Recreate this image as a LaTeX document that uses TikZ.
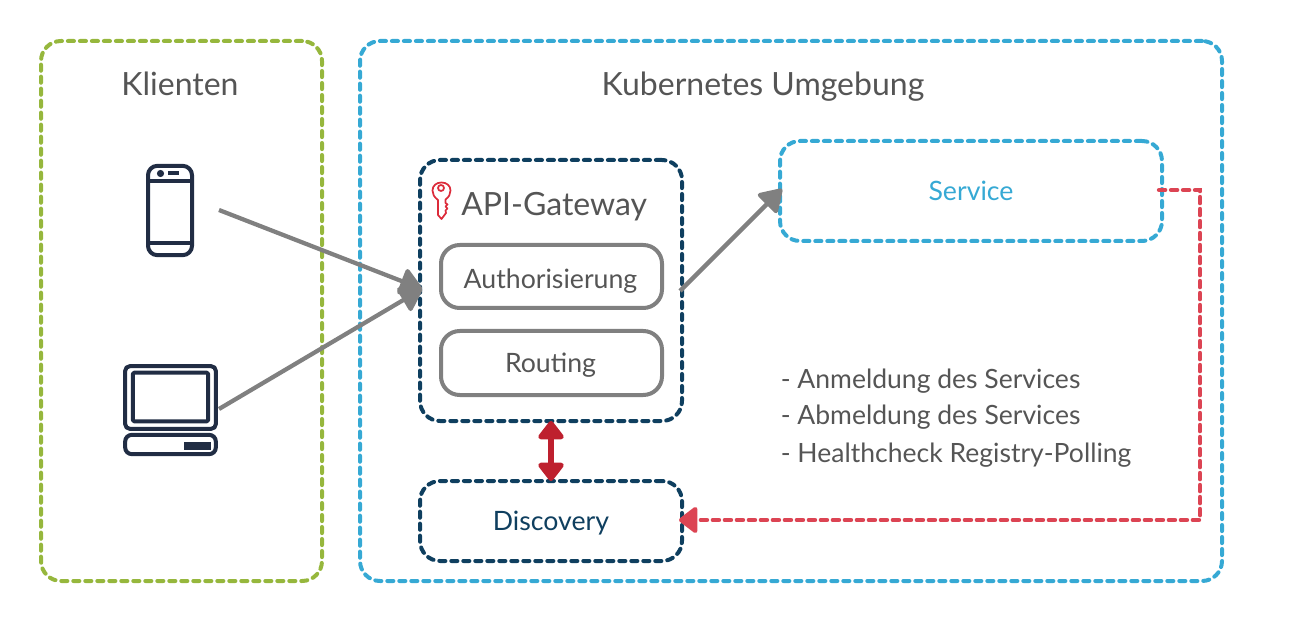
\documentclass[tikz,border=0pt]{standalone}
\usepackage{fontspec}
\setmainfont{Lato}
\usetikzlibrary{arrows.meta}
\definecolor{cgreen}{HTML}{96B73D}
\definecolor{cblue}{HTML}{36A9D4}
\definecolor{cnavy}{HTML}{0F3F5F}
\definecolor{cicon}{HTML}{212D44}
\definecolor{ctext}{HTML}{555555}
\definecolor{cgray}{HTML}{808080}
\definecolor{cred}{HTML}{DC4453}
\definecolor{cdark}{HTML}{BE202E}
\definecolor{ckey}{HTML}{DC2B3A}
\newcommand{\lowered}[2]{\raisebox{-#1}[\height][\depth]{#2}}
\tikzset{
  x=0.75pt,y=-0.75pt,
  dashbox/.style={draw,line width=3pt,line cap=round,dash pattern=on 4.6pt off 4.4pt,rounded corners=15pt,inner sep=0pt,outer sep=0pt,anchor=north west},
  solidbox/.style={draw=cgray,line width=3pt,rounded corners=14pt,inner sep=0pt,outer sep=0pt,anchor=north west,text=ctext,font=\fontsize{20pt}{24pt}\selectfont},
  title/.style={text=ctext,inner sep=0pt,font=\fontsize{24pt}{28pt}\selectfont},
  listitem/.style={text=ctext,inner sep=0pt,anchor=west,font=\fontsize{19.9pt}{23pt}\selectfont},
  grayarrow/.style={draw=cgray,line width=3.2pt,-{Triangle[length=18pt,width=22pt,round]}},
  redarrow/.style={draw=cdark,line width=3.8pt,{Triangle[length=15pt,width=22pt,round]}-{Triangle[length=15pt,width=22pt,round]}},
  dasharrow/.style={draw=cred,line width=3.3pt,line cap=round,dash pattern=on 4.6pt off 4.4pt,-{Triangle[length=15pt,width=22pt,round]}},
  icon/.style={draw=cicon,line width=3pt,line join=round,outer sep=0pt},
  keyline/.style={draw=ckey,line width=1.3pt,line join=round},
}
\begin{document}
\begin{tikzpicture}
\useasboundingbox (0,0) rectangle (1300,620);
% containers
\node[dashbox,draw=cgreen,minimum width=210.75pt,minimum height=405pt] (client) at (41,41) {};
\node[dashbox,draw=cblue,minimum width=646.5pt,minimum height=405pt] (kube) at (360,41) {};
\node[dashbox,draw=cnavy,minimum width=196.5pt,minimum height=195.75pt] (gw) at (420,160) {};
\node[dashbox,draw=cblue,minimum width=286.5pt,minimum height=75pt,text=cblue,font=\fontsize{20pt}{24pt}\selectfont] (svc) at (780,141) {Service};
\node[dashbox,draw=cnavy,minimum width=196.5pt,minimum height=60pt,text=cnavy,font=\fontsize{20pt}{24pt}\selectfont] (disc) at (420,481) {\lowered{1.5pt}{Discovery}};
\node[solidbox,minimum width=165.75pt,minimum height=47.25pt] (auth) at (441,245) {\hspace*{-1.5pt}\lowered{3.75pt}{Authorisierung}};
\node[solidbox,minimum width=165.75pt,minimum height=48pt] (rout) at (441,331) {\hspace*{-1.5pt}\lowered{1.5pt}{Routing}};
% titles
\node[title] (tklient) at (180,84) {Klienten};
\node[title] (tkube) at (763,86.5) {Kubernetes Umgebung};
\node[title,anchor=west] (tgw) at (461,206.5) {API-Gateway};
% list
\node[listitem] (l1) at (780.5,381.5) {- Anmeldung des Services};
\node[listitem] (l2) at (780.5,417.5) {- Abmeldung des Services};
\node[listitem] (l3) at (780.5,455.5) {- Healthcheck Registry-Polling};
% phone icon
\node[icon,rounded corners=7pt,minimum width=33pt,minimum height=67pt,inner sep=0pt] (phone) at (170,210.5) {};
\draw[icon] (147,181) -- (193,181);
\draw[icon] (147,243) -- (193,243);
\fill[cicon] (160.5,173.5) circle[radius=3.6];
\draw[icon] (168,173.5) -- (179,173.5);
% laptop icon
\node[icon,rounded corners=3.5pt,minimum width=68pt,minimum height=47pt,inner sep=0pt] (screen) at (170.5,397.5) {};
\node[icon,rounded corners=1pt,minimum width=56.5pt,minimum height=36.5pt,inner sep=0pt] (inner) at (170.5,397) {};
\node[icon,rounded corners=5pt,minimum width=68pt,minimum height=14.5pt,inner sep=0pt] (base) at (170.5,444.5) {};
\fill[cicon] (184,442) rectangle (211,449.5);
% key icon
\draw[keyline] (438,200) .. controls (434,197) and (432.5,194) .. (432.5,190.5)
  .. controls (432.5,185.5) and (436.5,182.5) .. (441.5,182.5)
  .. controls (446.5,182.5) and (450.5,185.5) .. (450.5,190.5)
  .. controls (450.5,194) and (449,197) .. (445.5,199.5)
  -- (445.5,203) -- (447.5,204.5) -- (445.5,206.5) -- (447.5,208.5) -- (445.5,210.5) -- (446,213)
  -- (441.5,219) -- (438,215) -- cycle;
\draw[keyline] (441,188) circle[radius=3];
% anchors
\coordinate (phoneout) at (219,210);
\coordinate (gwin) at (422,289);
\coordinate (lapout) at (219,409);
\coordinate (gwout) at (680,291);
\coordinate (svcin) at (782,189);
\coordinate (svcout) at (1159,190);
\coordinate (corner) at (1200,190);
\coordinate (discin) at (679,520);
% connectors
\draw[grayarrow] (phoneout) -- (gwin);
\draw[grayarrow] (lapout) -- (gwin);
\draw[grayarrow] (gwout) -- (svcin);
\draw[redarrow] (gw.south) -- (disc.north);
\draw[dasharrow] (svcout) -- (corner) |- (discin);
\end{tikzpicture}
\end{document}
